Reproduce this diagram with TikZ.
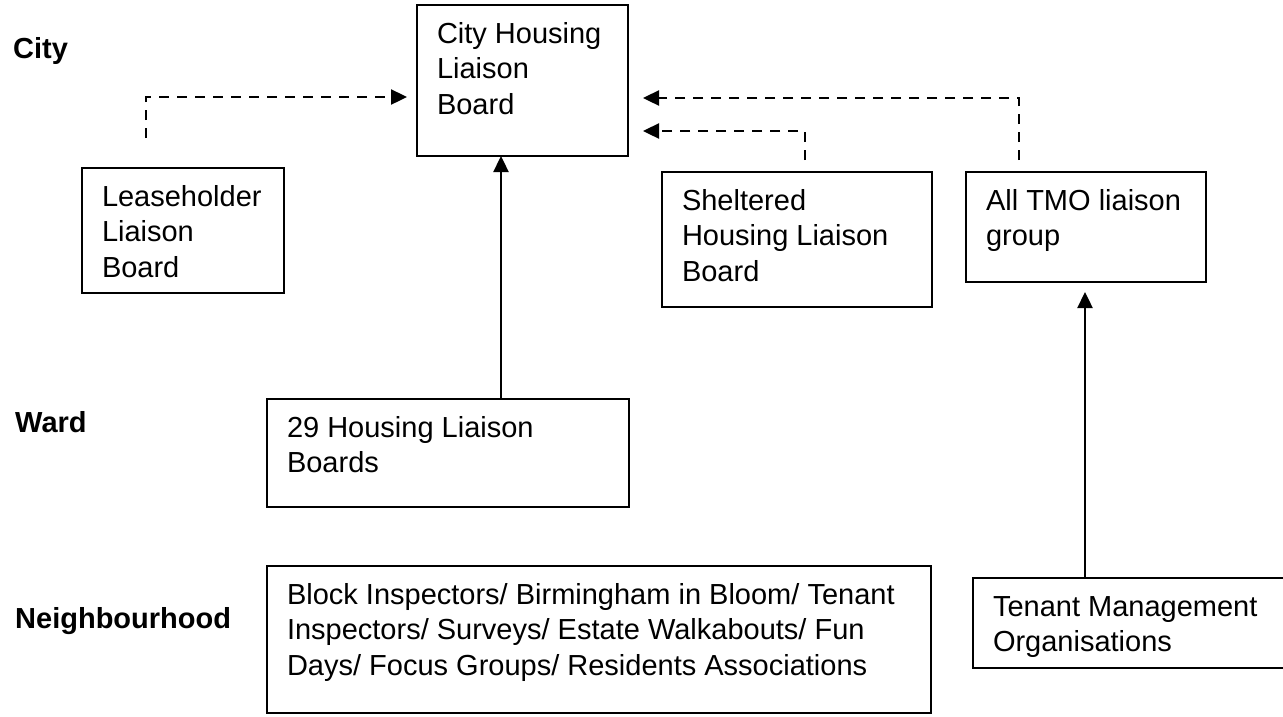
\documentclass[tikz,border=0pt]{standalone}
\usepackage{fontspec}
\setmainfont{Liberation Sans}
\usetikzlibrary{arrows.meta,calc}
\newcommand{\bt}[3]{\parbox[t][#2][t]{#1}{\raggedright\leftskip=20pt\parindent=0pt\rule{0pt}{38pt}#3}}
\tikzset{
  box/.style={draw, line width=2pt, inner sep=0pt, outer sep=0pt, anchor=north west,
    font=\fontsize{29}{35.5}\selectfont},
  lbl/.style={inner sep=0pt, anchor=base west, font=\fontsize{29}{35.5}\selectfont\bfseries},
  arr/.style={line width=2.4pt, -{Triangle[length=16pt,width=15pt]}},
  darr/.style={arr, dash pattern=on 10pt off 8pt},
}
\begin{document}
\begin{tikzpicture}[x=1pt,y=-1pt]
\useasboundingbox (0,0) rectangle (1283,716);
\clip (0,0) rectangle (1283,716);
\fill[white] (0,0) rectangle (1283,716);

% level labels
\node[lbl] (lcity) at (13,58) {City};
\node[lbl] (lward) at (15,432) {Ward};
\node[lbl] (lneigh) at (15,628) {Neighbourhood};

% boxes
\node[box] (chlb) at (417,5) {\bt{211pt}{151pt}{City Housing\\Liaison\\Board}};
\node[box] (lease) at (82,168) {\bt{202pt}{125pt}{Leaseholder\\Liaison\\Board}};
\node[box] (shelt) at (662,172) {\bt{270pt}{135pt}{Sheltered\\Housing Liaison\\Board}};
\node[box] (tmog) at (966,172) {\bt{240pt}{110pt}{All TMO liaison\\group}};
\node[box] (hlb) at (267,399) {\bt{362pt}{108pt}{29 Housing Liaison\\Boards}};
\node[box] (block) at (267,566) {\bt{664pt}{147pt}{Block Inspectors/ Birmingham in Bloom/ Tenant\\Inspectors/ Surveys/ Estate Walkabouts/ Fun\\Days/ Focus Groups/ Residents Associations}};
\node[box] (tmo) at (973,578) {\bt{320pt}{90pt}{Tenant Management\\Organisations}};

% dashed connectors
\coordinate (ls) at ($(lease.north west)+(64,-30)$);
\coordinate (ss) at ($(shelt.north west)+(143,-12)$);
\coordinate (ts) at ($(tmog.north west)+(53,-12)$);
\draw[darr] (ls) |- ($(chlb.north west)+(-10,92)$);
\draw[darr] (ts) |- ($(chlb.north east)+(15,93)$);
\draw[darr] (ss) |- ($(chlb.north east)+(15,126)$);

% solid connectors
\coordinate (a1) at ($(hlb.north west)+(234,0)$);
\draw[arr] (a1) -- (a1 |- chlb.south);
\coordinate (a2) at ($(tmo.north west)+(112,0)$);
\draw[arr, shorten >=10pt] (a2) -- (a2 |- tmog.south);
\end{tikzpicture}
\end{document}
